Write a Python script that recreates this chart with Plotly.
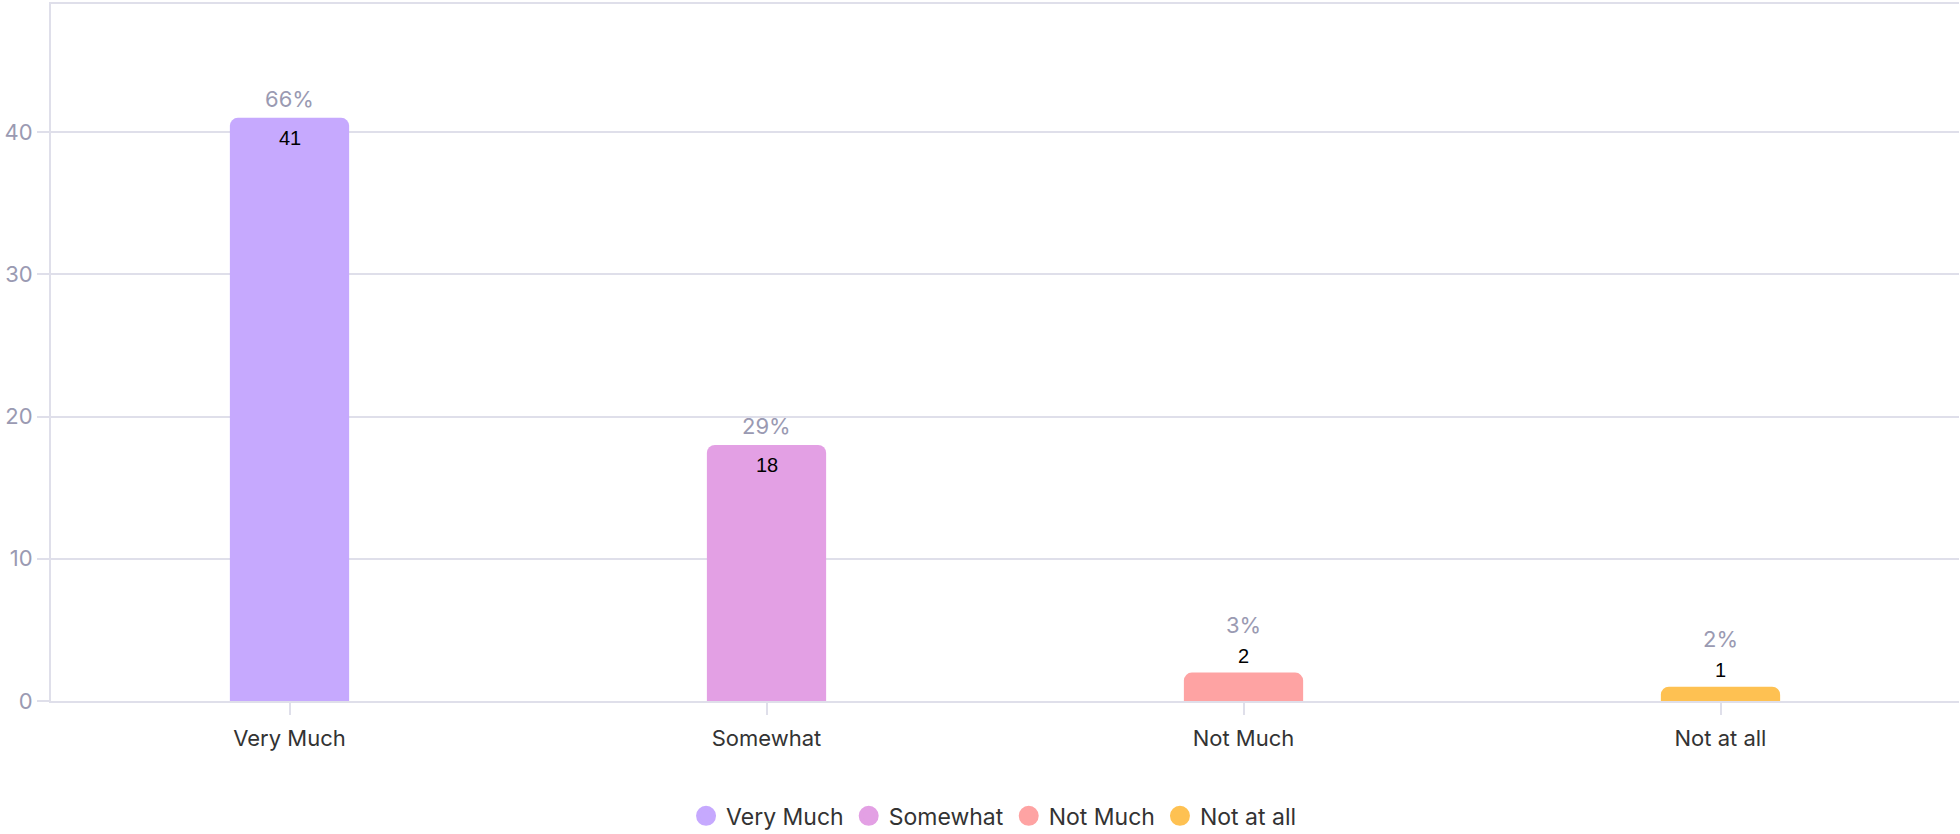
import plotly.graph_objects as go

categories = ["Very Much", "Somewhat", "Not Much", "Not at all"]
counts = [41, 18, 2, 1]
percents = ["66%", "29%", "3%", "2%"]
colors = ["#C6A9FE", "#E3A0E4", "#FEA3A3", "#FEC152"]

FONT = "Inter"
COUNT_FONT = "Liberation Sans"
GRID = "#DFDFEA"
TICK = "#9A9AB2"

fig = go.Figure()

for cat, val, col in zip(categories, counts, colors):
    fig.add_trace(go.Bar(
        x=[cat], y=[val], marker=dict(color=col, line=dict(width=0)),
        width=0.25, showlegend=False, hoverinfo="x+y",
    ))
    fig.add_trace(go.Scatter(
        x=[None], y=[None], mode="markers", name=cat,
        marker=dict(color=col, size=16, symbol="circle", line=dict(color=col, width=4)),
    ))

annotations = []
for cat, val, pct in zip(categories, counts, percents):
    inside = val >= 10
    if inside:
        annotations.append(dict(x=cat, y=val, text=str(val), showarrow=False,
                                yanchor="middle", yshift=-20,
                                font=dict(family=COUNT_FONT, size=20, color="#000000")))
        annotations.append(dict(x=cat, y=val, text=pct, showarrow=False,
                                yanchor="middle", yshift=19,
                                font=dict(family=FONT, size=22, color=TICK)))
    else:
        annotations.append(dict(x=cat, y=val, text=str(val), showarrow=False,
                                yanchor="middle", yshift=16.5,
                                font=dict(family=COUNT_FONT, size=20, color="#000000")))
        annotations.append(dict(x=cat, y=val, text=pct, showarrow=False,
                                yanchor="middle", yshift=47.5,
                                font=dict(family=FONT, size=22, color=TICK)))

fig.update_layout(
    width=1960, height=834,
    margin=dict(l=51, r=1, t=4, b=133, autoexpand=False),
    paper_bgcolor="white", plot_bgcolor="white",
    barmode="overlay", barcornerradius=8,
    font=dict(family=FONT, size=22, color="#333333"),
    annotations=annotations,
    legend=dict(orientation="h", x=0.494, xanchor="center", y=-0.134, yanchor="top",
                font=dict(family=FONT, size=23, color="#333333"),
                itemsizing="trace", traceorder="normal"),
    xaxis=dict(
        type="category", categoryorder="array", categoryarray=categories,
        showline=True, linecolor=GRID, linewidth=2, mirror=True,
        ticks="outside", ticklen=12, tickcolor=GRID, tickwidth=2,
        ticklabelstandoff=5,
        showgrid=False, tickfont=dict(family=FONT, size=22, color="#333333"),
        zeroline=False, automargin=False,
    ),
    yaxis=dict(
        range=[0, 49], tickvals=[0, 10, 20, 30, 40],
        showgrid=True, gridcolor=GRID, gridwidth=2,
        showline=True, linecolor=GRID, linewidth=2,
        ticks="outside", ticklen=12, tickcolor=GRID, tickwidth=2,
        tickfont=dict(family=FONT, size=22, color=TICK),
        zeroline=False, automargin=False,
    ),
)

fig.write_html("out.html", config={"displayModeBar": False},
               post_script="document.body.style.margin='0px';")
